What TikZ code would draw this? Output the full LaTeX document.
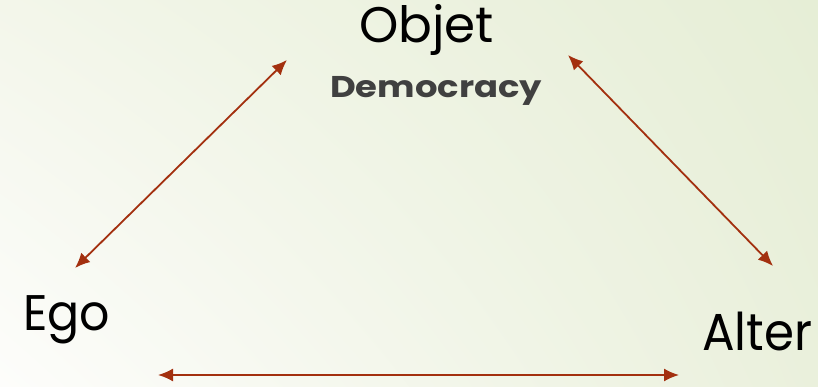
\documentclass[tikz,border=0pt]{standalone}
\usepackage{fontspec}
\usepackage{tikz}
\usetikzlibrary{arrows.meta}
\usetikzlibrary{positioning}
\usetikzlibrary{shadings}
\newfontfamily\gothic{Poppins}
\definecolor{rust}{HTML}{A3300F}
\definecolor{slate}{HTML}{404040}
\definecolor{bgul}{HTML}{F3F6EA}
\definecolor{bgur}{HTML}{E6EED6}
\definecolor{bgll}{HTML}{FDFDFB}
\definecolor{bglr}{HTML}{EAF0DC}
\tikzset{term/.style = {anchor = base west, inner sep = 0, font = \gothic\fontsize{50}{60}\selectfont}}
\tikzset{link/.style = {rust, line width = 1.8pt, {Latex[length=15pt, width=13pt]}-{Latex[length=15pt, width=13pt]}}}

\begin{document}
\begin{tikzpicture}[x=1pt, y=1pt]
    \shade[upper left = bgul, upper right = bgur, lower left = bgll, lower right = bglr]
      (0, 0) rectangle (818, 387);
    \node [term] (objet) at (359, 344) {Objet};
    \node [term, font = \gothic\bfseries\fontsize{30}{36}\selectfont, text = slate, xscale = 1.18] (democracy) at (330, 289) {Democracy};
    \node [term, xscale = 0.95] (ego) at (23, 56) {Ego};
    \node [term, font = \gothic\fontsize{52}{62}\selectfont, xscale = 0.93] (alter) at (702, 36) {Alter};
    \coordinate (egotop) at (75, 119);
    \coordinate (objetleft) at (287, 327);
    \coordinate (objetright) at (568, 332);
    \coordinate (altertop) at (773, 121);
    \coordinate (egobottom) at (158, 12);
    \coordinate (alterbottom) at (679, 12);
    \draw [link] (egotop) -- (objetleft);
    \draw [link] (objetright) -- (altertop);
    \draw [link] (egobottom) -- (alterbottom);
  \end{tikzpicture}
\end{document}
